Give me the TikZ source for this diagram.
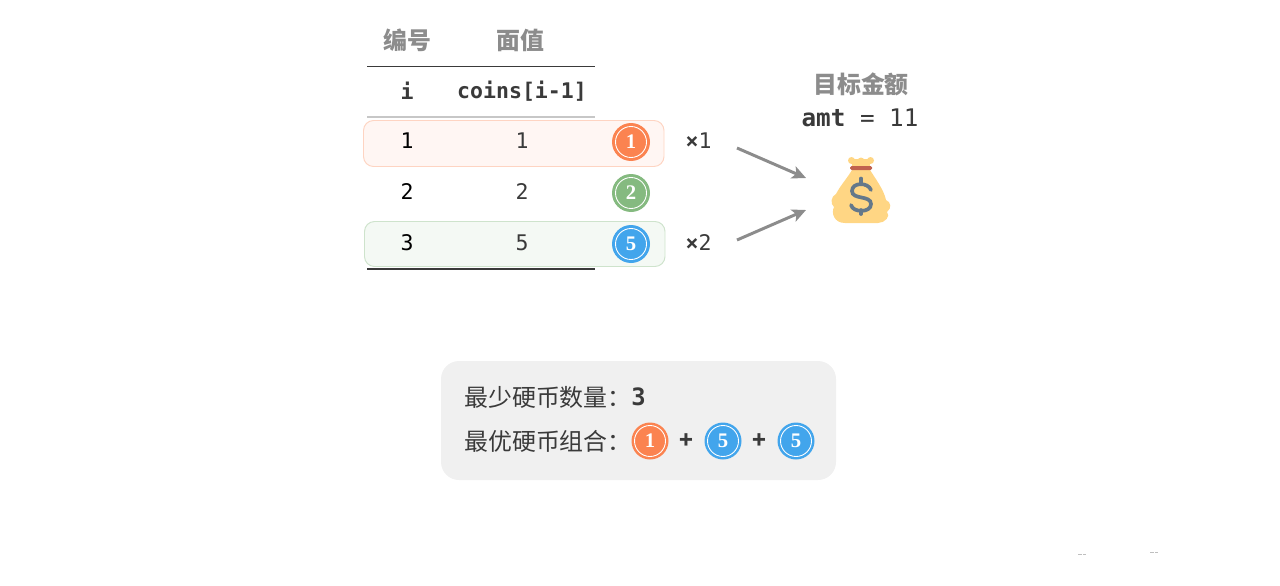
\documentclass[tikz,border=0pt]{standalone}
\usepackage{fontspec}
\usetikzlibrary{arrows.meta}
\setmonofont{DejaVu Sans Mono}
\setmainfont{Liberation Serif}
\newfontfamily\cjk{Noto Sans CJK SC}
\definecolor{inkdark}{HTML}{3A3A3A}
\definecolor{inkgray}{HTML}{8C8C8C}
\definecolor{coinorange}{HTML}{FB8350}
\definecolor{coingreen}{HTML}{85BA80}
\definecolor{coinblue}{HTML}{42A5EC}
\definecolor{bagbody}{HTML}{FFD684}
\definecolor{bagband}{HTML}{C0614E}
\definecolor{bagsign}{HTML}{64788A}
\tikzset{
	headtext/.style={text=inkgray, font=\cjk\bfseries\fontsize{13.6}{16}\selectfont, inner sep=0pt},
	monotext/.style={text=inkdark, font=\ttfamily\fontsize{12.25}{15}\selectfont, inner sep=0pt},
	boldtext/.style={monotext, font=\ttfamily\bfseries\fontsize{12.25}{15}\selectfont},
	bigtext/.style={text=inkdark, font=\ttfamily\fontsize{13.8}{16}\selectfont, inner sep=0pt},
	sumtext/.style={text=inkdark, font=\cjk\fontsize{13.6}{16}\selectfont, inner sep=0pt, anchor=west},
	plustext/.style={text=inkdark, font=\cjk\bfseries\fontsize{13}{16}\selectfont, inner sep=0pt},
	coin/.style={circle, fill=#1, minimum size=0.76cm, inner sep=0pt, text=white,
		font=\rmfamily\bfseries\fontsize{11.8}{14}\selectfont,
		path picture={\draw[white, line width=0.5pt] (path picture bounding box.center) circle (15.5);}},
	rowband/.style={rounded corners=0.2cm, line width=0.55pt},
	tablerule/.style={line width=0.75pt},
	pickarrow/.style={draw=inkgray, fill=inkgray, line width=1.7pt, -{Stealth[length=0.28cm,width=0.26cm,inset=0.07cm]}}
}
\begin{document}
\begin{tikzpicture}[x=0.02cm, y=-0.02cm]
	\useasboundingbox (0,0) rectangle (1280,585);

	% highlighted rows
	\draw[rowband, draw=coinorange!35, fill=coinorange!7] (363.5,120.5) rectangle (664,166.5);
	\draw[rowband, draw=coingreen!40, fill=coingreen!9] (364.5,221.5) rectangle (665,266.5);

	% table
	\draw[tablerule, draw=inkdark] (367,66.5) -- (595,66.5);
	\draw[tablerule, draw=black!22] (367,117) -- (595,117);
	\draw[tablerule, draw=inkdark] (367,269) -- (595,269);

	\node[headtext] (headno) at (407,40) {编号};
	\node[headtext] (headval) at (520,40) {面值};
	\node[boldtext] (coli) at (407,91) {i};
	\node[boldtext] (colcoins) at (522,91) {coins[i-1]};

	\node[monotext, text=black] (rowa) at (407,141) {1};
	\node[monotext, text=black] (rowb) at (407,192) {2};
	\node[monotext, text=black] (rowc) at (407,243) {3};
	\node[monotext] (vala) at (522,141) {1};
	\node[monotext] (valb) at (522,192) {2};
	\node[monotext] (valc) at (522,243) {5};

	\node[coin=coinorange] (coina) at (631,142) {1};
	\node[coin=coingreen] (coinb) at (631,193) {2};
	\node[coin=coinblue] (coinc) at (631,244) {5};

	\node[monotext] (timesa) at (698.5,141) {\textbf{×}1};
	\node[monotext] (timesc) at (698.5,243) {\textbf{×}2};

	% target amount
	\node[headtext] (target) at (861,84) {目标金额};
	\node[bigtext] (amt) at (860,118) {\textbf{amt} = 11};

	% money bag
	\fill[bagbody] (851.5,160.5) circle (3.5) (861,161) circle (3.5) (870.5,160.5) circle (3.5);
	\fill[bagbody] (852,159) rectangle (870,168);
	\fill[bagbody] (852,170) .. controls (848,177) and (840,186) .. (836,194)
		.. controls (831,196) and (830,204) .. (834,207)
		.. controls (831,213) and (834,223) .. (845,223) -- (878,223)
		.. controls (885,223) and (891,216) .. (887,212)
		.. controls (892,208) and (891,202) .. (886,200)
		.. controls (884,190) and (875,178) .. (870,170) -- cycle;
	\fill[bagband, rounded corners=0.03cm] (850,166) rectangle (872,170);
	\draw[draw=bagsign, line width=2.1pt, line cap=round] (871,190) .. controls (868,182) and (852,182) .. (852,191)
		.. controls (852,200) and (871,195) .. (871,204)
		.. controls (871,213) and (853,213) .. (851,205);
	\draw[draw=bagsign, line width=2.1pt, line cap=round] (861,178.5) -- (861,184) (861,210) -- (861,214);

	\coordinate (froma) at (737,148);
	\coordinate (toa) at (806,178);
	\coordinate (fromc) at (737,240);
	\coordinate (toc) at (806,210);
	\draw[pickarrow] (froma) -- (toa);
	\draw[pickarrow] (fromc) -- (toc);

	% result panel
	\fill[black!6, rounded corners=0.36cm] (441,361) rectangle (836,480);
	\node[sumtext] (countlabel) at (464,397) {最少硬币数量：};
	\node[bigtext, font=\ttfamily\bfseries\fontsize{13.6}{16}\selectfont] (countval) at (638.5,397) {3};
	\node[sumtext] (combolabel) at (464,441) {最优硬币组合：};
	\node[coin=coinorange, minimum size=0.74cm] (suma) at (650,441) {1};
	\node[plustext] (plusa) at (686,441) {+};
	\node[coin=coinblue, minimum size=0.74cm] (sumb) at (723,441) {5};
	\node[plustext] (plusb) at (759,441) {+};
	\node[coin=coinblue, minimum size=0.74cm] (sumc) at (796,441) {5};

	% specks
	\draw[black!25, line width=0.3pt, dash pattern=on 2pt off 1pt] (1078,554) -- (1086,554);
	\draw[black!25, line width=0.3pt, dash pattern=on 2pt off 1pt] (1150,552.5) -- (1158,552.5);
\end{tikzpicture}
\end{document}
